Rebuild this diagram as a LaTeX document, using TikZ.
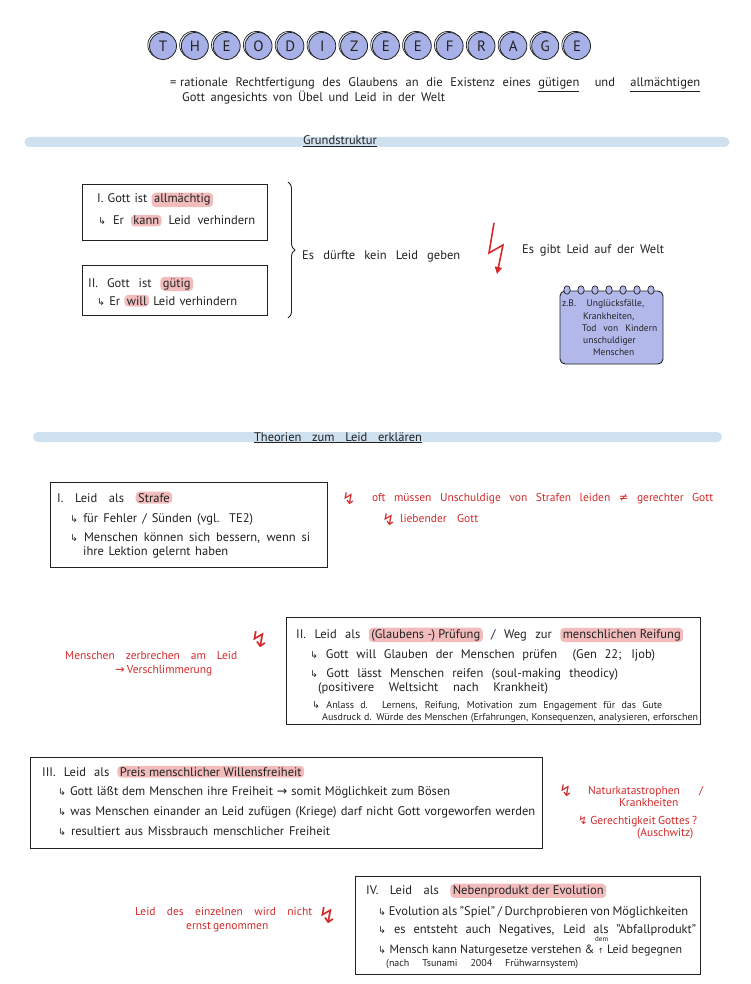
\documentclass[tikz,border=0pt]{standalone}
\usepackage{fontspec}
\setmainfont{PT Sans}
\newfontfamily\sym{DejaVu Sans}
\usetikzlibrary{decorations.pathreplacing,arrows.meta}
\definecolor{ink}{HTML}{222222}
\definecolor{barblue}{HTML}{CFE0EF}
\definecolor{lav}{HTML}{A8B0E8}
\definecolor{notelav}{HTML}{B3B8EA}
\definecolor{hlpink}{HTML}{F2BCBC}
\definecolor{redink}{HTML}{D32B2B}
\newcommand\hlt[1]{\tikz[baseline=(hlbox.base)]\node[draw=none,fill=hlpink,rounded corners=4pt,inner xsep=2.5pt,inner ysep=1.4pt,anchor=center,outer sep=0pt](hlbox){#1};}
\newcommand\rarr{{\sym\fontsize{9.5}{9.5}\selectfont ↳}}
\newcommand\zz{{\sym ↯}}
\newcommand\fw[2]{\makebox[#1pt][s]{#2}}
\tikzset{
  txt/.style={anchor=base west, inner sep=0pt, text=ink, font=\fontsize{12.5}{15}\selectfont},
  small/.style={txt, font=\fontsize{10}{12}\selectfont},
  note/.style={txt, font=\fontsize{9.5}{11}\selectfont},
  redsmall/.style={txt, text=redink, font=\fontsize{11.5}{13}\selectfont},
  bolt/.style={anchor=base west, inner sep=0pt, text=redink, font=\fontsize{16}{16}\selectfont},
  bigbolt/.style={anchor=base west, inner sep=0pt, text=redink, font=\fontsize{22}{22}\selectfont},
  box/.style={draw=ink, line width=1.1pt, anchor=north west, inner sep=0pt},
  bar/.style={fill=barblue, draw=none, rounded corners=5pt, minimum height=10pt, inner sep=0pt},
  letter/.style={circle, draw=ink, fill=lav, minimum size=27pt, inner sep=0pt, line width=0.8pt, text=ink, font=\fontsize{15}{15}\selectfont},
}
\begin{document}
\begin{tikzpicture}[x=1pt,y=-1pt]
\useasboundingbox[fill=white] (0,0) rectangle (750,984);

% title
\foreach \L [count=\i from 0] in {T,H,E,O,D,I,Z,E,E,F,R,A,G,E} {
  \draw[ink, line width=0.7pt] ({163+31.85*\i-1.6},45) circle (13.6pt);
  \node[letter] (t\i) at ({163+31.85*\i},46) {\L};
}

% definition
\node[txt] (eq) at (170,87) {=};
\node[txt] (def1) at (180,87) {\fw{520}{rationale Rechtfertigung des Glaubens an die Existenz eines \underline{gütigen} \ und \ \underline{allmächtigen}}};
\node[txt] (def2) at (182,102) {\fw{263}{Gott angesichts von Übel und Leid in der Welt}};

% Grundstruktur
\node[bar, minimum width=705pt] (bar1) at (377,142) {};
\node[txt, anchor=base] (head1) at (340,145) {\underline{Grundstruktur}};

\node[box, minimum width=185pt, minimum height=56pt] (g1) at (82,184) {};
\node[txt] (g1a) at (97,203) {\fw{116}{I. Gott ist \hlt{allmächtig}}};
\node[txt] (g1b) at (98,225) {\fw{157}{\rarr\ Er \hlt{kann} Leid verhindern}};

\node[box, minimum width=185pt, minimum height=50pt] (g2) at (82,265) {};
\node[txt] (g2a) at (88,287) {\fw{105}{II. Gott ist \hlt{gütig}}};
\node[txt] (g2b) at (97,305) {\fw{140}{\rarr\ Er \hlt{will} Leid verhindern}};

\coordinate (brtop) at (288,182);
\coordinate (brbot) at (288,318);
\draw[ink, line width=0.9pt, decorate, decoration={brace, amplitude=7pt}] (brtop) -- (brbot);

\node[txt] (nogrief) at (302,259) {\fw{158}{Es dürfte kein Leid geben}};
\draw[redink, line width=1.6pt, -{Triangle[length=7pt,width=7pt]}] (494,223) -- (489,253) -- (503,245) -- (497,274);
\node[txt] (grief) at (522,254) {\fw{142}{Es gibt Leid auf der Welt}};

% notepad
\draw[fill=notelav, draw=ink, line width=0.9pt, rounded corners=5pt] (560,291) rectangle (663,364);
\foreach \k in {0,...,6} \draw[ink, line width=0.7pt, fill=notelav] ({567+14*\k},290) ellipse (3.2pt and 4.2pt);
\node[note] (n1) at (562,306) {\fw{82}{z.B. Unglücksfälle,}};
\node[note] (n2) at (583,319) {Krankheiten,};
\node[note] (n3) at (582,331) {\fw{75}{Tod von Kindern}};
\node[note] (n4) at (583,343) {unschuldiger};
\node[note] (n5) at (593,355) {Menschen};

% Theorien
\node[bar, minimum width=689pt] (bar2) at (377.5,437) {};
\node[txt, anchor=base] (head2) at (338,441) {\underline{\fw{168}{Theorien zum Leid erklären}}};

% I Strafe
\node[box, minimum width=277pt, minimum height=85pt] (s1) at (50,482) {};
\node[txt] (s1a) at (57,502) {\fw{115}{I. Leid als \hlt{Strafe}}};
\node[txt] (s1b) at (70,522) {\fw{183}{\rarr\ für Fehler / Sünden (vgl. TE2)}};
\node[txt] (s1c) at (70,541) {\fw{240}{\rarr\ Menschen können sich bessern, wenn si}};
\node[txt] (s1d) at (83,555) {\fw{145}{ihre Lektion gelernt haben}};

\node[bolt] (z1) at (342,504) {\zz};
\node[redsmall] (r1a) at (372,501) {\fw{341}{oft müssen Unschuldige von Strafen leiden {\sym ≠} gerechter Gott}};
\node[bolt] (z2) at (382,525) {\zz};
\node[redsmall] (r1b) at (400,522) {\fw{78}{liebender Gott}};

% II Pruefung
\node[redsmall] (r2a) at (65,659) {\fw{172}{Menschen zerbrechen am Leid}};
\node[redsmall] (r2b) at (115,673) {\fw{84}{{\sym →} Verschlimmerung}};
\node[bigbolt] (z3) at (250,647) {\zz};

\node[box, minimum width=414pt, minimum height=107pt] (s2) at (286,617) {};
\node[txt] (s2a) at (296,638) {\fw{387}{II. Leid als \hlt{(Glaubens -) Prüfung} / Weg zur \hlt{menschlichen Reifung}}};
\node[txt] (s2b) at (310,658) {\fw{345}{\rarr\ Gott will Glauben der Menschen prüfen \ (Gen 22; Ijob)}};
\node[txt] (s2c) at (310,677) {\fw{308}{\rarr\ Gott lässt Menschen reifen (soul-making theodicy)}};
\node[txt] (s2d) at (318,691) {\fw{230}{(positivere Weltsicht nach Krankheit)}};
\node[small] (s2e) at (312,708) {\fw{350}{\rarr\ Anlass d. Lernens, Reifung, Motivation zum Engagement für das Gute}};
\node[small] (s2f) at (322,720) {\fw{376}{Ausdruck d. Würde des Menschen (Erfahrungen, Konsequenzen, analysieren, erforschen}};

% III Willensfreiheit
\node[box, minimum width=512pt, minimum height=91pt] (s3) at (30,757) {};
\node[txt] (s3a) at (42,776) {\fw{262}{III. Leid als \hlt{Preis menschlicher Willensfreiheit}}};
\node[txt] (s3b) at (58,795) {\fw{392}{\rarr\ Gott läßt dem Menschen ihre Freiheit {\sym →} somit Möglichkeit zum Bösen}};
\node[txt] (s3c) at (58,815) {\fw{477}{\rarr\ was Menschen einander an Leid zufügen (Kriege) darf nicht Gott vorgeworfen werden}};
\node[txt] (s3d) at (58,835) {\fw{272}{\rarr\ resultiert aus Missbrauch menschlicher Freiheit}};

\node[bolt] (z4) at (559,796) {\zz};
\node[redsmall] (r3a) at (588,794) {\fw{115}{Naturkatastrophen \ /}};
\node[redsmall] (r3b) at (619,806) {\fw{70}{Krankheiten}};
\node[redsmall] (r3c) at (578,824) {\fw{119}{{\sym ↯} Gerechtigkeit Gottes ?}};
\node[redsmall] (r3d) at (637,836) {\fw{57}{(Auschwitz)}};

% IV Evolution
\node[redsmall] (r4a) at (135,915) {\fw{177}{Leid des einzelnen wird nicht}};
\node[redsmall] (r4b) at (186,929) {\fw{76}{ernst genommen}};
\node[bigbolt] (z5) at (318,923) {\zz};

\node[box, minimum width=345pt, minimum height=98pt] (s4) at (355,876) {};
\node[txt] (s4a) at (366,894) {\fw{240}{IV. Leid als \hlt{Nebenprodukt der Evolution}}};
\node[txt] (s4b) at (378,915) {\fw{310}{\rarr\ Evolution als "Spiel" / Durchprobieren von Möglichkeiten}};
\node[txt] (s4c) at (378,933) {\fw{318}{\rarr\ es entsteht auch Negatives, Leid als "Abfallprodukt"}};
\node[txt, font=\fontsize{12}{14}\selectfont] (s4d) at (378,953) {\fw{304}{\rarr\ Mensch kann Naturgesetze verstehen \& {\sym\fontsize{7}{7}\selectfont ↑} Leid begegnen}};
\node[small, font=\fontsize{7}{7}\selectfont] (s4dem) at (595,941) {dem};
\node[small] (s4e) at (386,966) {\fw{192}{(nach Tsunami 2004 Frühwarnsystem)}};
\end{tikzpicture}
\end{document}
